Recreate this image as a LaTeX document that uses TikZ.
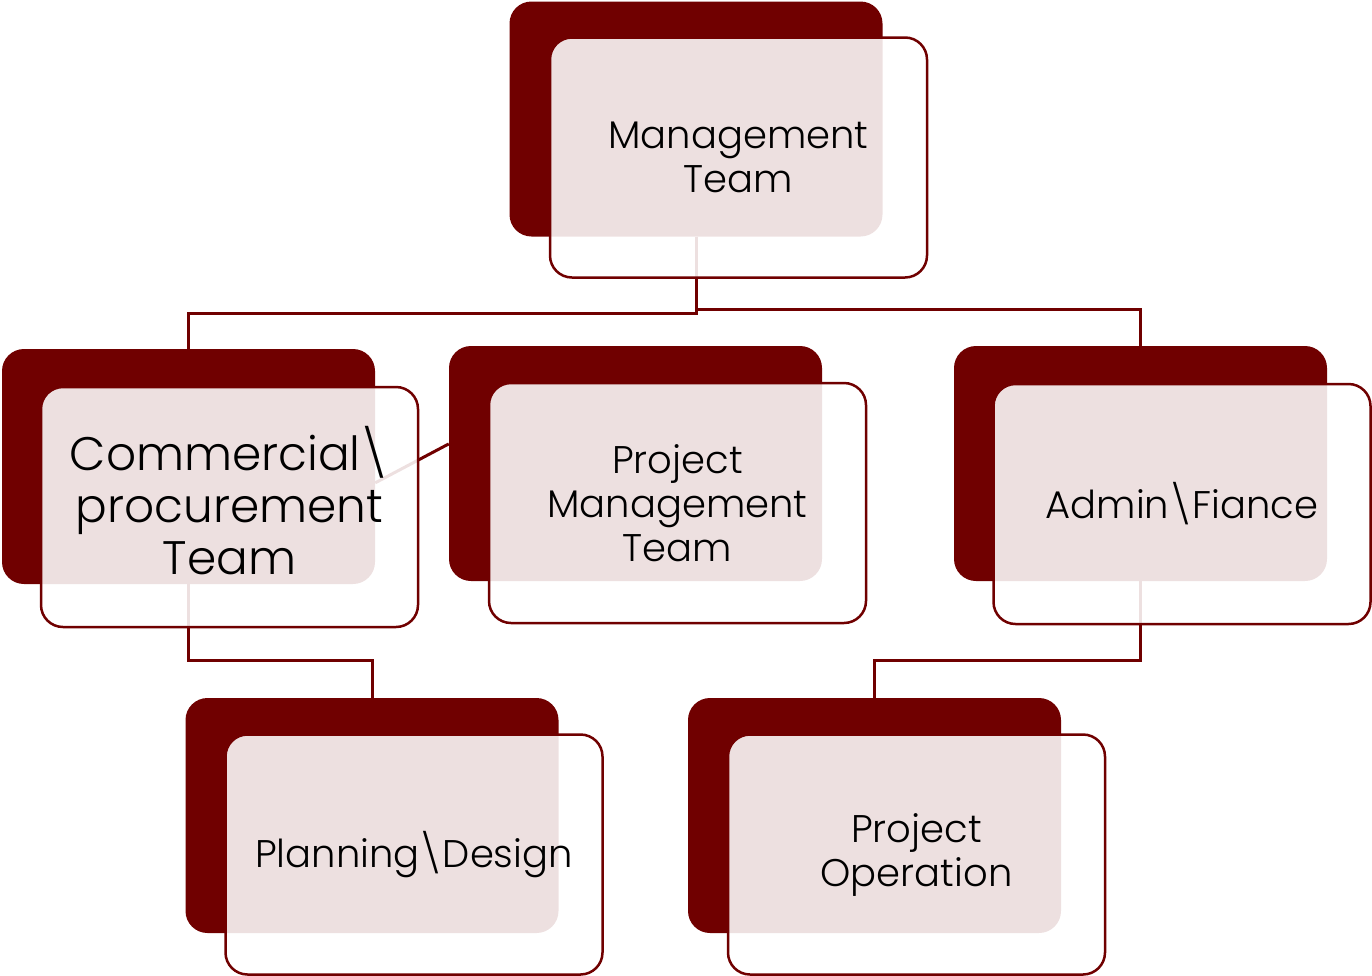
\documentclass[tikz,border=0pt]{standalone}
\usepackage{fontspec}
\setmainfont{Poppins}[UprightFont=* Light]
\usepackage{tikz}
\definecolor{maroon}{RGB}{112,0,0}

\begin{document}
\begin{tikzpicture}[x=1pt,y=-1pt,
		back/.style={fill=maroon,rounded corners=22pt,inner sep=0pt,minimum width=373pt,minimum height=235pt},
		front/.style={draw=maroon,line width=2.5pt,fill=white,fill opacity=0.88,text opacity=1,rounded corners=22pt,
			inner sep=0pt,minimum width=377pt,minimum height=240pt,align=center,font=\fontsize{38.5}{44}\selectfont},
		link/.style={draw=maroon,line width=3pt}]
		\useasboundingbox (0,0) rectangle (1372,975);
		% back boxes
		\node[back] (mgmtB) at (696,119) {};
		\node[back] (comB) at (188.5,466.5) {};
		\node[back] (pmB) at (635.5,463.5) {};
		\node[back] (admB) at (1140.5,463.5) {};
		\node[back] (plnB) at (372,815.5) {};
		\node[back] (opB) at (874.5,815.5) {};
		% connectors
		\path[link] (mgmtB.south) -- ++(0,77) -| (comB.north);
		\path[link] (mgmtB.south) -- ++(0,73) -| (admB.north);
		\path[link] (comB.-5) -- (pmB.174);
		\path[link] (comB.south) -- ++(0,76) -| (plnB.north);
		\path[link] (admB.south) -- ++(0,79) -| (opB.north);
		% front boxes
		\node[front,font=\fontsize{47}{52}\selectfont,text depth=14pt] (com) at (229.5,507) {Commercial\textbackslash\\procurement\\Team};
		\node[front] (mgmt) at (738.5,157.5) {Management\\Team};
		\node[front] (pm) at (677.5,503) {Project\\Management\\Team};
		\node[front] (adm) at (1182,504) {Admin\textbackslash Fiance};
		\node[front] (pln) at (414,854.5) {Planning\textbackslash Design};
		\node[front,text depth=8pt] (op) at (916.5,854.5) {Project\\Operation};
	\end{tikzpicture}
\end{document}
